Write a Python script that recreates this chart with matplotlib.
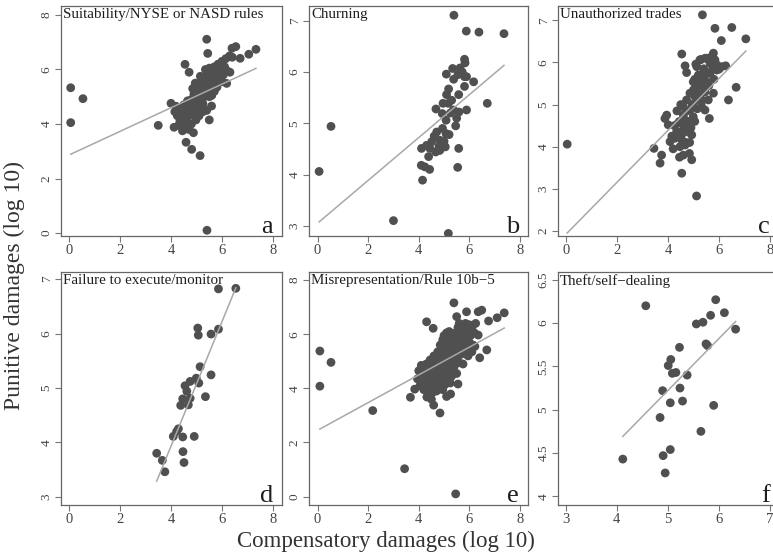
import numpy as np
from matplotlib import pyplot as plt

plt.rcParams['font.family'] = ['Liberation Serif', 'DejaVu Serif']

# values, one list of (comp, punitive) per panel
TITLES = ["Suitability/NYSE or NASD rules", "Churning", "Unauthorized trades",
          "Failure to execute/monitor", "Misrepresentation/Rule 10b\u22125",
          "Theft/self\u2212dealing"]
LETTERS = ["a", "b", "c", "d", "e", "f"]

suit_pts = [
    (0.07, 5.33), (0.07, 4.05), (0.55, 4.93), (3.50, 3.95), (5.41, 0.10),
    (5.14, 2.84), (4.81, 3.07), (4.59, 3.33), (4.88, 3.68), (5.40, 7.11),
    (5.44, 6.59), (4.55, 6.19), (4.71, 5.90), (6.39, 6.78), (6.54, 6.84),
    (6.71, 6.41), (7.05, 6.56), (7.33, 6.74), (6.31, 5.90), (6.18, 5.49),
    (5.59, 4.66), (5.50, 4.15), (4.00, 4.76), (4.12, 3.88), (4.98, 4.15),
    (4.15, 4.45), (4.25, 4.30), (4.30, 4.60), (4.35, 4.10), (4.40, 4.45),
    (4.45, 4.25), (4.50, 4.70), (4.50, 3.95), (4.55, 4.40), (4.60, 4.10),
    (4.60, 4.60), (4.65, 4.85), (4.70, 4.30), (4.70, 3.80), (4.75, 4.55),
    (4.80, 4.00), (4.80, 4.90), (4.85, 4.35), (4.90, 4.70), (4.30, 3.95),
    (4.45, 3.75), (4.20, 4.65), (4.90, 5.10), (4.95, 4.50), (5.00, 4.85),
    (5.00, 5.30), (5.05, 4.60), (5.05, 5.05), (5.10, 5.45), (5.10, 4.30),
    (5.15, 4.95), (5.20, 5.20), (5.20, 5.60), (5.25, 4.75), (5.30, 5.00),
    (5.30, 5.40), (5.35, 5.75), (5.40, 5.20), (5.40, 4.50), (5.45, 5.50),
    (5.50, 5.00), (5.50, 5.85), (4.85, 5.30), (4.95, 5.50), (5.15, 5.75),
    (5.25, 4.45), (5.55, 5.30), (5.60, 5.60), (5.60, 6.00), (5.65, 5.80),
    (5.70, 5.20), (5.70, 6.10), (5.75, 5.50), (5.80, 5.90), (5.85, 6.20),
    (5.90, 5.65), (5.95, 6.00), (6.00, 6.30), (6.05, 5.80), (6.10, 6.10),
    (6.15, 6.40), (6.20, 5.95), (6.30, 6.50), (5.50, 6.05), (5.35, 6.00),
    (5.60, 5.05), (5.80, 5.35), (6.00, 5.55), (6.40, 6.45),
]

churn_pts = [
    (5.39, 7.11), (5.88, 6.80), (6.38, 6.78), (7.37, 6.75), (0.53, 4.94),
    (0.06, 4.06), (3.00, 3.10), (5.17, 2.85), (6.71, 5.39), (6.17, 5.81),
    (5.81, 6.25), (5.83, 6.18), (5.09, 5.96), (5.34, 6.07), (5.38, 5.86),
    (5.63, 6.08), (5.72, 6.00), (5.81, 5.91), (5.89, 5.91), (5.81, 5.72),
    (5.58, 5.56), (5.18, 5.67), (5.10, 5.56), (4.96, 5.39), (4.68, 5.28),
    (5.17, 5.39), (5.37, 5.26), (5.59, 5.22), (5.89, 5.26), (5.50, 5.10),
    (5.08, 5.06), (4.93, 5.19), (4.71, 4.83), (4.94, 4.90), (5.08, 4.80),
    (5.20, 4.78), (5.46, 4.95), (4.84, 4.67), (4.97, 4.54), (4.51, 4.64),
    (4.44, 4.51), (4.31, 4.57), (4.61, 4.75), (4.67, 4.44), (5.05, 4.54),
    (4.83, 4.47), (4.11, 4.51), (4.39, 4.35), (5.58, 4.51), (4.10, 4.18),
    (4.24, 4.15), (4.43, 4.10), (4.15, 3.89), (5.54, 4.14), (5.25, 5.20),
    (4.80, 4.55), (5.00, 4.65), (5.30, 5.45), (5.55, 5.95),
]

unauth_pts = [
    (5.35, 7.13), (5.84, 6.81), (6.50, 6.83), (6.09, 6.52), (7.05, 6.56),
    (0.05, 4.06), (5.12, 2.83), (4.54, 3.37), (4.93, 3.69), (3.69, 3.61),
    (3.75, 3.80), (3.45, 3.96), (6.37, 5.11), (6.67, 5.41), (5.62, 4.67),
    (4.54, 6.20), (4.67, 5.92), (4.73, 5.76), (5.09, 5.96), (5.29, 6.07),
    (5.52, 6.10), (5.65, 5.98), (5.78, 6.22), (5.84, 6.06), (6.00, 5.84),
    (6.26, 5.92), (5.78, 5.27), (4.60, 3.80), (4.84, 3.84), (4.47, 4.00),
    (4.67, 4.04), (4.93, 4.28), (4.01, 4.52), (3.88, 4.67), (3.95, 4.75),
    (4.08, 4.12), (4.27, 4.20), (5.45, 4.87), (5.32, 4.95), (6.10, 5.90),
    (5.91, 5.82), (5.13, 5.42), (5.06, 5.19), (5.39, 5.42), (4.73, 5.11),
    (4.60, 4.95), (4.86, 4.87), (4.67, 4.63), (4.40, 4.56), (4.99, 4.71),
    (4.34, 4.36), (4.60, 4.40), (5.19, 5.70), (5.39, 5.62), (5.65, 5.74),
    (5.13, 5.90), (5.25, 6.06), (5.45, 6.10), (5.71, 6.14), (4.99, 5.54),
    (5.25, 5.19), (5.58, 5.11), (4.86, 5.27), (4.15, 4.25), (4.25, 4.50),
    (4.35, 4.85), (4.45, 3.75), (4.45, 4.60), (4.50, 5.00), (4.55, 4.30),
    (4.60, 4.75), (4.65, 4.50), (4.70, 4.10), (4.75, 4.60), (4.80, 4.35),
    (4.90, 4.45), (4.95, 5.00), (5.00, 5.35), (5.05, 5.60), (5.10, 5.10),
    (5.15, 4.90), (5.20, 5.25), (5.25, 5.70), (5.30, 5.50), (5.35, 5.10),
    (5.40, 5.85), (5.45, 5.30), (5.50, 5.55), (5.55, 5.75), (5.60, 5.45),
    (5.70, 6.05), (5.75, 5.85), (5.80, 5.60), (5.90, 5.95), (4.55, 4.15),
    (4.85, 4.10), (4.75, 4.85), (5.05, 4.60), (4.20, 3.95),
]

fail_pts = [
    (5.86, 6.82), (6.54, 6.83), (5.05, 6.10), (5.07, 5.97), (5.57, 5.99),
    (5.86, 6.08), (5.14, 5.39), (5.57, 5.24), (4.99, 5.18), (5.09, 5.09),
    (4.75, 5.12), (4.55, 5.04), (4.62, 4.94), (4.75, 4.81), (4.46, 4.80),
    (4.38, 4.68), (4.68, 4.69), (5.35, 4.84), (4.29, 4.25), (4.22, 4.20),
    (4.09, 4.11), (4.46, 4.10), (4.91, 4.11), (4.47, 3.83), (4.51, 3.63),
    (3.44, 3.80), (3.66, 3.67), (3.76, 3.46),
]

misrep_pts = [
    (0.09, 5.38), (0.09, 4.08), (0.53, 4.96), (2.18, 3.18), (3.44, 1.03),
    (5.46, 0.10), (5.39, 7.16), (4.84, 3.09), (4.59, 3.38), (4.32, 3.68),
    (3.67, 3.67), (3.84, 3.97), (5.26, 3.79), (5.55, 4.16), (4.31, 6.46),
    (4.57, 6.22), (5.50, 6.65), (5.89, 6.83), (6.35, 6.83), (6.49, 6.89),
    (6.76, 6.49), (7.10, 6.61), (7.38, 6.79), (6.69, 5.42), (6.41, 5.13),
    (5.96, 5.50), (6.22, 5.55), (6.35, 5.97), (5.10, 3.70), (4.50, 3.60),
    (3.95, 4.35), (4.00, 4.65), (4.05, 4.10), (4.10, 4.50), (4.10, 4.85),
    (4.15, 4.25), (4.20, 4.70), (4.20, 3.95), (4.25, 4.45), (4.30, 4.15),
    (4.30, 4.90), (4.35, 4.60), (4.40, 4.30), (4.40, 3.95), (4.45, 4.75),
    (4.45, 5.05), (4.50, 4.45), (4.50, 4.10), (4.55, 4.90), (4.55, 3.85),
    (4.60, 4.60), (4.60, 5.20), (4.60, 4.25), (4.65, 4.95), (4.70, 4.40),
    (4.70, 3.90), (4.75, 4.75), (4.75, 5.35), (4.80, 4.15), (4.80, 5.05),
    (4.85, 4.55), (4.85, 5.60), (4.90, 4.85), (4.90, 4.30), (4.90, 5.25),
    (4.95, 3.95), (4.95, 5.80), (4.95, 4.65), (5.00, 5.05), (5.00, 4.40),
    (5.05, 5.45), (5.05, 4.80), (5.10, 6.05), (5.10, 5.20), (5.10, 4.55),
    (5.15, 5.65), (5.15, 4.25), (5.20, 4.95), (5.20, 5.40), (5.25, 5.90),
    (5.25, 4.70), (5.30, 5.15), (5.30, 5.60), (5.30, 4.45), (5.00, 5.95),
    (5.20, 6.10), (5.35, 5.00), (5.35, 5.85), (5.40, 5.35), (5.40, 4.80),
    (5.45, 6.05), (5.45, 5.60), (5.50, 5.10), (5.50, 4.55), (5.50, 5.85),
    (5.55, 5.40), (5.55, 6.25), (5.60, 4.95), (5.60, 5.70), (5.65, 6.00),
    (5.65, 5.25), (5.70, 5.50), (5.70, 6.20), (5.75, 4.90), (5.75, 5.85),
    (5.80, 5.30), (5.80, 6.05), (5.85, 5.65), (5.85, 6.40), (5.90, 5.95),
    (5.95, 5.20), (5.95, 6.15), (6.00, 5.70), (6.00, 6.35), (6.05, 5.95),
    (6.10, 6.25), (6.15, 5.60), (6.20, 6.05), (6.25, 6.40), (6.10, 5.35),
    (4.65, 4.20), (4.85, 4.00), (5.05, 4.15), (5.25, 4.20), (4.40, 4.55),
    (4.70, 5.15), (5.40, 5.95), (5.60, 6.40),
]

theft_pts = [
    (4.57, 6.20), (5.94, 6.27), (6.11, 6.12), (5.84, 6.09), (5.69, 6.01),
    (5.56, 5.99), (6.33, 5.93), (5.75, 5.76), (5.78, 5.74), (5.23, 5.72),
    (5.06, 5.58), (5.01, 5.51), (5.09, 5.42), (5.16, 5.43), (5.38, 5.40),
    (5.24, 5.25), (4.90, 5.22), (5.05, 5.08), (5.29, 5.10), (5.90, 5.05),
    (4.85, 4.91), (5.65, 4.75), (5.05, 4.54), (4.91, 4.47), (4.95, 4.27),
    (4.12, 4.43),
]

# fitted line (intercept, slope) as drawn in each panel
fit_coef = [(2.86, 0.434), (3.05, 0.418), (1.92, 0.617),
            (-0.65, 1.145), (2.45, 0.512), (2.22, 0.60)]

xticks = [[0, 2, 4, 6, 8]] * 5 + [[3, 4, 5, 6, 7]]
yticks = [[0, 2, 4, 6, 8], [3, 4, 5, 6, 7], [2, 3, 4, 5, 6, 7],
          [3, 4, 5, 6, 7], [0, 2, 4, 6, 8], [4, 4.5, 5, 5.5, 6, 6.5]]
xlims = [(-0.31, 8.35), (-0.34, 8.32), (-0.31, 8.35),
         (-0.31, 8.35), (-0.34, 8.32), (2.85, 7.18)]
ylims = [(-0.11, 8.33), (2.80, 7.29), (1.88, 7.34),
         (2.85, 7.13), (-0.31, 8.30), (3.90, 6.59)]

W, H = 773, 559
# axes boxes in pixels: left, top, right, bottom
boxes = [(61, 6, 282, 236), (309, 6, 528, 236), (558, 6, 779, 236),
         (61, 272, 282, 505), (309, 272, 528, 505), (558, 272, 779, 505)]

fig = plt.figure(figsize=(W / 100, H / 100), dpi=100)

panels = [suit_pts, churn_pts, unauth_pts, fail_pts, misrep_pts, theft_pts]
for i, pts in enumerate(panels):
    l, t, r, b = boxes[i]
    ax = fig.add_axes([l / W, 1 - b / H, (r - l) / W, (b - t) / H])
    x, y = np.array(pts).T
    ax.scatter(x, y, s=40, color='#505050', edgecolors='none', zorder=2)
    b0, b1 = fit_coef[i]
    xx = np.array([x.min(), x.max()])
    ax.plot(xx, b0 + b1 * xx, color='#a8a8a8', lw=1.1, zorder=3)

    ax.set_xlim(*xlims[i])
    ax.set_ylim(*ylims[i])
    ax.set_xticks(xticks[i])
    ax.set_yticks(yticks[i])
    ax.set_yticklabels(["%g" % v for v in yticks[i]])
    ax.tick_params(direction='out', length=4, width=0.8, color='#777777',
                   labelcolor='#444444', labelsize=10.5, pad=2)
    ax.tick_params(axis='y', labelrotation=90, labelsize=9.5)
    for lab in ax.get_yticklabels():
        lab.set_va('center')
    for sp in ax.spines.values():
        sp.set_color('#666666')
        sp.set_linewidth(0.9)

    wpx = r - l
    ax.text(2 / wpx, 0.99, TITLES[i], transform=ax.transAxes, ha='left',
            va='top', fontsize=10.8, color='#1e1e1e')
    ax.text(1 - 9 / wpx, 0.013, LETTERS[i], transform=ax.transAxes,
            ha='right', va='baseline', fontsize=19, color='#1e1e1e')

fig.text(0.019, 0.49, "Punitive damages (log 10)", rotation=90,
         ha='center', va='center', fontsize=17, color='#333333')
fig.text(0.4994, 0.032, "Compensatory damages (log 10)",
         ha='center', va='center', fontsize=16.5, color='#333333')

fig.savefig("out.png", dpi=100)
